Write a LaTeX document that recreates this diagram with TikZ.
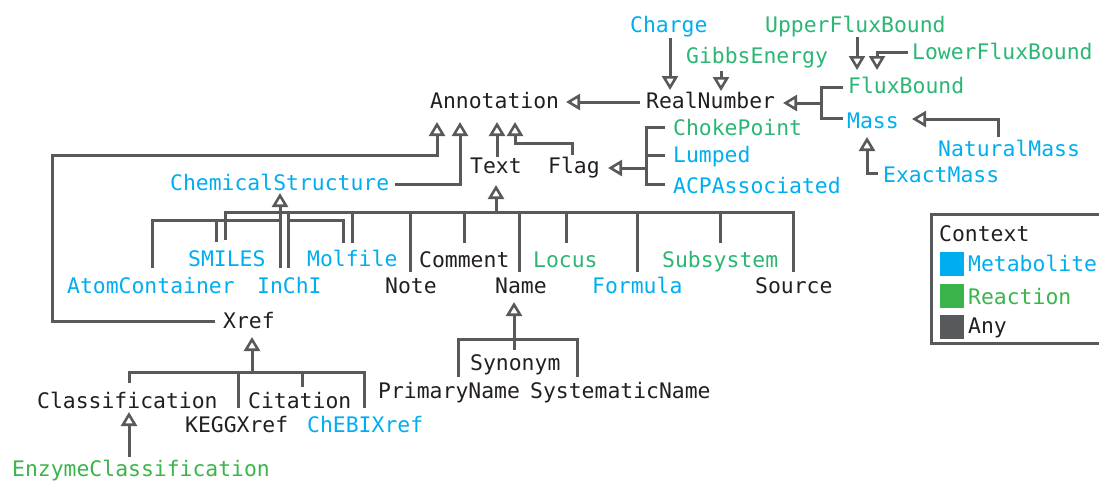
\documentclass[tikz,border=0pt]{standalone}
\usepackage{fontspec}
\usetikzlibrary{arrows.meta}
\newfontfamily\monof{DejaVu Sans Mono}
\definecolor{metblue}{HTML}{00AEEF}
\definecolor{rxngreen}{HTML}{2BB673}
\definecolor{enzgreen}{HTML}{3BB54A}
\definecolor{anyblack}{HTML}{231F20}
\definecolor{linegray}{HTML}{58595B}
\tikzset{
  lbl/.style={inner sep=0pt, anchor=base west, font=\monof\fontsize{21.4}{24}\selectfont},
  met/.style={lbl, text=metblue},
  rxn/.style={lbl, text=rxngreen},
  any/.style={lbl, text=anyblack},
  conn/.style={draw=linegray, line width=3pt},
  inh/.style={conn, -{Triangle[open,length=14pt,width=16pt,line width=2.6pt]}},
}
\begin{document}
\begin{tikzpicture}[x=1pt,y=-1pt]
\useasboundingbox (0,0) rectangle (1099,480);
% ---- nodes ----
\node[any] (Annotation) at (430,108) {Annotation};
\node[any] (RealNumber) at (646,108) {RealNumber};
\node[met] (Charge) at (630,32) {Charge};
\node[rxn] (GibbsEnergy) at (686,63) {GibbsEnergy};
\node[rxn] (UpperFluxBound) at (765,32) {UpperFluxBound};
\node[rxn] (LowerFluxBound) at (912,59) {LowerFluxBound};
\node[rxn] (FluxBound) at (848,93) {FluxBound};
\node[met] (Mass) at (847,128) {Mass};
\node[met] (NaturalMass) at (938,156) {NaturalMass};
\node[met] (ExactMass) at (883,182) {ExactMass};
\node[rxn] (ChokePoint) at (673,135) {ChokePoint};
\node[met] (Lumped) at (673,162) {Lumped};
\node[met] (ACPAssociated) at (673,193) {ACPAssociated};
\node[any] (Text) at (470,173) {Text};
\node[any] (Flag) at (548,173) {Flag};
\node[met] (ChemicalStructure) at (170,190) {ChemicalStructure};
\node[met] (SMILES) at (188,266) {SMILES};
\node[met] (Molfile) at (307,266) {Molfile};
\node[any] (Comment) at (419,267) {Comment};
\node[rxn] (Locus) at (533,267) {Locus};
\node[rxn] (Subsystem) at (662,267) {Subsystem};
\node[met] (AtomContainer) at (67,293) {AtomContainer};
\node[met] (InChI) at (257,293) {InChI};
\node[any] (Note) at (385,293) {Note};
\node[any] (Name) at (495,293) {Name};
\node[met] (Formula) at (592,293) {Formula};
\node[any] (Source) at (755,293) {Source};
\node[any] (Xref) at (223,328) {Xref};
\node[any] (Synonym) at (470,370) {Synonym};
\node[any] (PrimaryName) at (378,398) {PrimaryName};
\node[any] (SystematicName) at (530,398) {SystematicName};
\node[any] (Classification) at (37,408) {Classification};
\node[any] (Citation) at (248,408) {Citation};
\node[any] (KEGGXref) at (185,432) {KEGGXref};
\node[met] (ChEBIXref) at (307,432) {ChEBIXref};
\node[lbl, text=enzgreen] (EnzymeClassification) at (12,476) {EnzymeClassification};
% ---- legend ----
\draw[draw=linegray, line width=3pt] (931,214) rectangle (1110,343);
\node[any] (Context) at (939,241) {Context};
\fill[metblue] (940,252) rectangle (964,276);
\fill[enzgreen] (940,284) rectangle (964,308);
\fill[linegray] (940,315) rectangle (964,339);
\node[met] (Metabolite) at (968,271) {Metabolite};
\node[lbl, text=enzgreen] (Reaction) at (968,304) {Reaction};
\node[any] (Any) at (968,333) {Any};
% ---- connectors: RealNumber family ----
\draw[inh] (670,38) -- (670,90);
\draw[inh] (721,71) -- (721,91);
\draw[inh] (640,102) -- (566,102);
\draw[conn] (843,87) -- (821,87) -- (821,118) -- (843,118);
\draw[inh] (821,103) -- (783,103);
\draw[inh] (857,37) -- (857,70);
\draw[inh] (908,52) -- (877,52) -- (877,70);
\draw[inh] (998,137) -- (998,119) -- (912,119);
\draw[inh] (878,173) -- (867,173) -- (867,137);
% ---- Annotation children ----
\draw[inh] (572,155) -- (572,143) -- (515,143) -- (515,122);
\draw[inh] (497,157) -- (497,122);
\draw[inh] (395,184) -- (460,184) -- (460,122);
\draw[inh] (215,321) -- (52,321) -- (52,155) -- (437,155) -- (437,122);
% ---- Flag children ----
\draw[conn] (665,127) -- (646,127) -- (646,184) -- (665,184);
\draw[conn] (646,155) -- (665,155);
\draw[inh] (646,168) -- (608,168);
% ---- Text children ----
\draw[inh] (496,212) -- (496,185);
\draw[conn] (225,240) -- (225,212) -- (793,212) -- (793,272);
\draw[conn] (288,212) -- (288,268);
\draw[conn] (352,212) -- (352,243);
\draw[conn] (410,212) -- (410,272);
\draw[conn] (464,212) -- (464,243);
\draw[conn] (519,212) -- (519,272);
\draw[conn] (566,212) -- (566,243);
\draw[conn] (637,212) -- (637,272);
\draw[conn] (720,212) -- (720,243);
% ---- ChemicalStructure children ----
\draw[inh] (280,268) -- (280,193);
\draw[conn] (152,268) -- (152,220) -- (280,220);
\draw[conn] (216,220) -- (216,242);
\draw[conn] (288,220) -- (343,220) -- (343,243);
% ---- Xref children ----
\draw[inh] (252,372) -- (252,337);
\draw[conn] (129,383) -- (129,372) -- (364,372) -- (364,408);
\draw[conn] (238,372) -- (238,408);
\draw[conn] (302,372) -- (302,387);
\draw[inh] (129,457) -- (129,412);
% ---- Name children ----
\draw[inh] (514,350) -- (514,302);
\draw[conn] (458,377) -- (458,339) -- (577,339) -- (577,377);
\end{tikzpicture}
\end{document}
